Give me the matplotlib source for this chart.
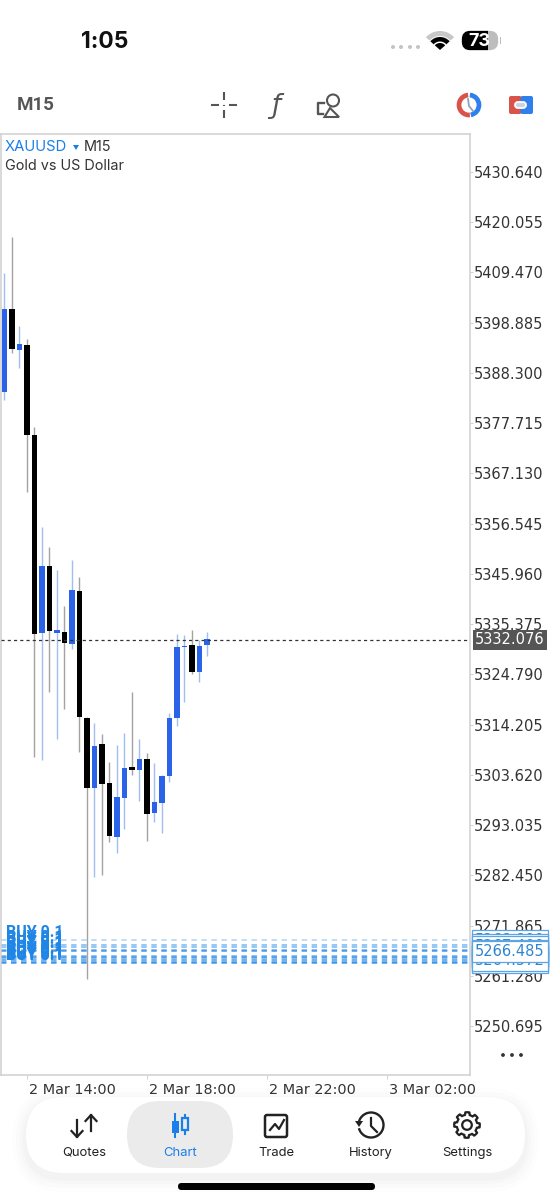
import matplotlib
matplotlib.use("Agg")
import matplotlib.pyplot as plt
import numpy as np
from matplotlib.patches import Arc, Circle, FancyBboxPatch, Polygon, Rectangle, Wedge
from matplotlib.transforms import ScaledTranslation

opens = [5384.3, 5401.8, 5393.1, 5394.2, 5375.2, 5333.5, 5347.6, 5333.5, 5333.7, 5331.2,
         5342.4, 5315.6, 5300.9, 5310.2, 5301.9, 5290.5, 5298.7, 5305.3, 5304.6, 5307.0,
         5295.6, 5297.7, 5303.4, 5315.6, 5330.6, 5331.0, 5325.3, 5331.0]
highs = [5409.4, 5416.9, 5398.2, 5395.5, 5376.9, 5355.8, 5351.6, 5346.8, 5339.2, 5348.9,
         5345.3, 5315.8, 5314.5, 5312.2, 5306.3, 5309.9, 5312.4, 5321.1, 5311.2, 5308.2,
         5306.1, 5303.6, 5316.7, 5333.3, 5333.1, 5334.1, 5332.0, 5333.7]
lows = [5382.6, 5392.5, 5389.3, 5363.2, 5307.4, 5306.8, 5321.1, 5311.2, 5317.5, 5330.1,
        5308.4, 5260.6, 5282.1, 5282.5, 5289.5, 5287.2, 5292.2, 5303.6, 5298.1, 5289.7,
        5293.7, 5291.4, 5302.1, 5313.9, 5319.0, 5324.9, 5323.2, 5328.7]
closes = [5401.8, 5393.4, 5394.4, 5375.2, 5333.3, 5347.6, 5333.9, 5334.1, 5331.4, 5342.6,
          5315.8, 5300.9, 5309.7, 5301.7, 5290.7, 5299.0, 5305.1, 5304.6, 5307.0, 5295.4,
          5297.9, 5303.4, 5315.6, 5330.6, 5330.8, 5325.3, 5330.8, 5332.2]

price_ticks = [5430.640, 5420.055, 5409.470, 5398.885, 5388.300, 5377.715, 5367.130, 5356.545,
               5345.960, 5335.375, 5324.790, 5314.205, 5303.620, 5293.035, 5282.450, 5271.865,
               5261.280, 5250.695]
time_ticks = [3, 19, 35, 51]
time_labels = ["2 Mar 14:00", "2 Mar 18:00", "2 Mar 22:00", "3 Mar 02:00"]
last_price = 5332.076
order_prices = [5268.8, 5267.8, 5267.4, 5266.7, 5265.5, 5265.3, 5265.1, 5264.2, 5264.0, 5264.572, 5266.485]
order_alpha = [0.3, 0.5, 0.5, 0.55, 0.55, 0.55, 0.6, 0.7, 0.7, 0.7, 0.7]
nav_labels = ["Quotes", "Chart", "Trade", "History", "Settings"]
nav_x = [84, 180, 276, 371, 467]

BLUE = "#2a62e8"
UI_BLUE = "#1a7fe8"
ORDER = "#1f86e6"
DARK = "#222222"
GRAY = "#555555"

fig = plt.figure(figsize=(5.52, 12), dpi=100, facecolor="white")

# screen furniture lives in an axes measured in pixels
ui = fig.add_axes([0, 0, 1, 1], zorder=0)
ui.set_xlim(0, 552)
ui.set_ylim(1200, 0)
ui.axis("off")

# chart frame: x 0-470, y 134-1075
ax = fig.add_axes([0.5 / 552, 1 - 1075 / 1200, 469.5 / 552, 941 / 1200], zorder=1)
ax.patch.set_alpha(0)
ax.set_xlim(-4 / 7.5, 466 / 7.5)
ax.set_ylim(5240.38, 5438.65)
for s in ax.spines.values():
    s.set_color("#cfcfcf")
    s.set_linewidth(1.1)

# candles
for i in range(len(opens)):
    up = closes[i] >= opens[i]
    body = BLUE if up else "black"
    wick = "#a3bdee" if up else "#a3a3a3"
    ax.vlines(i, lows[i], highs[i], color=wick, lw=1.0, zorder=2)
    ax.bar(i, abs(closes[i] - opens[i]), bottom=min(opens[i], closes[i]), width=0.74,
           color=body, linewidth=0, zorder=3)

# axes
ax.yaxis.tick_right()
ax.set_yticks(price_ticks)
ax.set_yticklabels([f"{p:.3f}" for p in price_ticks], fontsize=10.5, color="#333333", family="DejaVu Sans")
ax.tick_params(axis="y", length=2.5, width=0.7, color="#cfcfcf", pad=0.6)
ax.set_xticks(time_ticks)
ax.set_xticklabels(time_labels, fontsize=10.4, color="#333333", family="DejaVu Sans", ha="left")
ax.tick_params(axis="x", length=3, width=0.7, color="#cfcfcf", pad=3)
shift = ScaledTranslation(2 / 100, 0, fig.dpi_scale_trans)
for lab in ax.get_xticklabels():
    lab.set_transform(lab.get_transform() + shift)

# open orders, all stacked on top of one another
yx = ax.get_yaxis_transform()
for p, a in zip(order_prices, order_alpha):
    ax.plot([0, 1], [p, p], transform=yx, color=ORDER, lw=1.3, alpha=a, dashes=(3, 2.55), zorder=2.5)
    ax.annotate("BUY 0.1", (0, p), xycoords=yx, xytext=(4.2, 2.2), textcoords="offset points",
                fontsize=11.5, fontweight="bold", color=ORDER, family="Roboto", va="baseline", zorder=4)
for p in order_prices:
    ax.text(1.0106, p, f"{p:.3f}", transform=yx, fontsize=10.5, color="#2f84d0", family="DejaVu Sans",
            va="center", ha="left", clip_on=False, zorder=5,
            bbox=dict(boxstyle="square,pad=0.2", fc="white", ec="#5ba4e6", lw=0.9))

# last price line and flag
ax.axhline(last_price, color="#333333", lw=0.9, dashes=(2.5, 2.5), zorder=4)
ax.text(1.0106, last_price, f"{last_price:.3f}", transform=yx, fontsize=10.5, color="white",
        family="DejaVu Sans", va="center", ha="left", clip_on=False, zorder=5,
        bbox=dict(boxstyle="square,pad=0.16", fc="#555555", ec="#555555", lw=0))

# status bar
ui.text(105, 42.5, "1:05", fontsize=16.5, fontweight="bold", family="Inter", ha="center", va="center", color="#111111")
for dx in [393, 401, 410, 418]:
    ui.add_patch(Circle((dx, 47), 2, color="#c4c4c4", lw=0))
ui.add_patch(Wedge((440, 50), 19, 222, 318, width=5, color="#c8c8c8", lw=0))
ui.add_patch(Wedge((440, 50), 13, 222, 318, width=4.5, color="black", lw=0))
ui.add_patch(Wedge((440, 50), 7, 222, 318, color="black", lw=0))
bat = FancyBboxPatch((465, 34), 30, 13, boxstyle="round,pad=0,rounding_size=5", mutation_aspect=1,
                     fc="#bdbdbd", ec="#bdbdbd", lw=4.5)
ui.add_patch(bat)
bat2 = FancyBboxPatch((465, 34), 30, 13, boxstyle="round,pad=0,rounding_size=5", fc="black", ec="black", lw=4.5)
ui.add_patch(bat2)
bat2.set_clip_path(Rectangle((455, 25), 33, 30, transform=ui.transData))
ui.add_patch(Rectangle((499.5, 37), 1.5, 7, color="#bdbdbd", lw=0))
ui.text(479, 41, "73", fontsize=13, fontweight="bold", family="Inter", color="white", ha="center", va="center")

# toolbar
ui.text(17, 105, "M15", fontsize=13.5, fontweight="bold", family="Roboto", color=GRAY, va="center")
for seg in [((211, 105), (219, 105)), ((229, 105), (237, 105)), ((224, 92), (224, 100)), ((224, 110), (224, 118)),
            ((224, 104.5), (224, 105.5))]:
    ui.plot(*zip(*seg), color=GRAY, lw=1.5, solid_capstyle="butt")
ui.text(276, 106, "\u0192", fontsize=19, style="italic", family="DejaVu Sans", color=GRAY, ha="center", va="center")
ui.add_patch(Circle((333, 100.5), 6, fc="none", ec=GRAY, lw=1.5))
ui.add_patch(Polygon([(330, 108), (324.5, 117), (339, 117)], closed=True, fc="none", ec=GRAY, lw=1.5))
ui.plot([324, 318, 318, 323], [103, 103, 114, 114], color=GRAY, lw=1.7)
ui.add_patch(Arc((469, 105), 20, 20, theta1=85, theta2=265, color="#d9534a", lw=3.4))
ui.add_patch(Arc((469, 105), 20, 20, theta1=-85, theta2=80, color="#2f80ed", lw=3.4))
ui.plot([468, 469, 473], [99, 106, 111], color="#8fa3b8", lw=1.3)
ui.add_patch(FancyBboxPatch((509, 96), 12.5, 18, boxstyle="round,pad=0,rounding_size=2", fc="#d9534a", ec="none"))
ui.add_patch(FancyBboxPatch((520.5, 96), 12.5, 18, boxstyle="round,pad=0,rounding_size=2", fc="#2f80ed", ec="none"))
ui.add_patch(FancyBboxPatch((515, 102), 11, 6, boxstyle="round,pad=0,rounding_size=3", fc="#c9d4e2", ec="white", lw=1.3))

# symbol caption over the chart
ui.text(5, 147, "XAUUSD", fontsize=10.7, family="Inter", color=UI_BLUE, va="center", zorder=5)
ui.add_patch(Polygon([(73, 145), (79, 145), (76, 150)], closed=True, color=UI_BLUE, lw=0))
ui.text(84, 147, "M15", fontsize=10.4, family="Inter", color="#333333", va="center")
ui.text(5, 166, "Gold vs US Dollar", fontsize=10.4, family="Inter", color="#333333", va="center")

# more-dots
for dx in [503, 512, 521]:
    ui.add_patch(Circle((dx, 1055), 1.9, color="#333333", lw=0))

# bottom navigation
for grow, a in [(14, 0.008), (10, 0.01), (6, 0.012), (3, 0.015)]:
    ui.add_patch(FancyBboxPatch((26 - grow, 1097 - grow + 5), 499 + 2 * grow, 76 + 2 * grow,
                                boxstyle=f"round,pad=0,rounding_size={38 + grow}", fc="black", ec="none", alpha=a))
ui.add_patch(FancyBboxPatch((26, 1097), 499, 76, boxstyle="round,pad=0,rounding_size=38", fc="white", ec="none"))
ui.add_patch(FancyBboxPatch((127, 1101), 106, 67, boxstyle="round,pad=0,rounding_size=33", fc="#ebebeb", ec="none"))
for name, nx in zip(nav_labels, nav_x):
    ui.text(nx, 1153, name, fontsize=9.4, family="Inter", ha="center", va="center",
            color=UI_BLUE if name == "Chart" else "#222222")

# quotes arrows
ui.plot([77, 77], [1120, 1137], color=DARK, lw=1.6)
ui.plot([71.5, 77, 82.5], [1131, 1137, 1131], color=DARK, lw=1.6)
ui.plot([91, 91], [1115, 1131], color=DARK, lw=1.6)
ui.plot([85.5, 91, 96.5], [1121, 1115, 1121], color=DARK, lw=1.6)
# chart candles
ui.plot([175, 175], [1114, 1137], color=UI_BLUE, lw=1.5)
ui.add_patch(Rectangle((171.5, 1121), 7, 12, color=UI_BLUE, lw=0))
ui.plot([185, 185], [1115, 1134], color=UI_BLUE, lw=1.5)
ui.add_patch(Rectangle((182, 1118), 6, 12, fc="#ebebeb", ec=UI_BLUE, lw=1.6, zorder=3))
# trade
ui.add_patch(FancyBboxPatch((265, 1115), 22, 22, boxstyle="round,pad=0,rounding_size=2", fc="none", ec=DARK, lw=1.8))
ui.plot([270, 275, 279, 284], [1130, 1124, 1129, 1120], color=DARK, lw=1.6)
# history
ui.add_patch(Arc((371, 1125), 25, 25, theta1=-170, theta2=165, color=DARK, lw=1.7))
ui.plot([371, 371, 377], [1118, 1126, 1132], color=DARK, lw=1.6)
ui.add_patch(Polygon([(355, 1121), (363, 1121), (359, 1127)], closed=True, color=DARK, lw=0))
# settings gear
ang = np.linspace(0, 2 * np.pi, 97)
rad = 12.8 - 2.6 * (np.cos(8 * ang) < 0)
ui.add_patch(Polygon(np.c_[467 + rad * np.cos(ang), 1125 + rad * np.sin(ang)], closed=True, fc="none",
                     ec=DARK, lw=1.6, joinstyle="round"))
ui.add_patch(Circle((467, 1125), 4.8, fc="none", ec=DARK, lw=1.6))

# home indicator
ui.add_patch(FancyBboxPatch((178, 1183), 197, 7, boxstyle="round,pad=0,rounding_size=3.5", fc="black", ec="none"))

fig.savefig("out.png", dpi=100)
